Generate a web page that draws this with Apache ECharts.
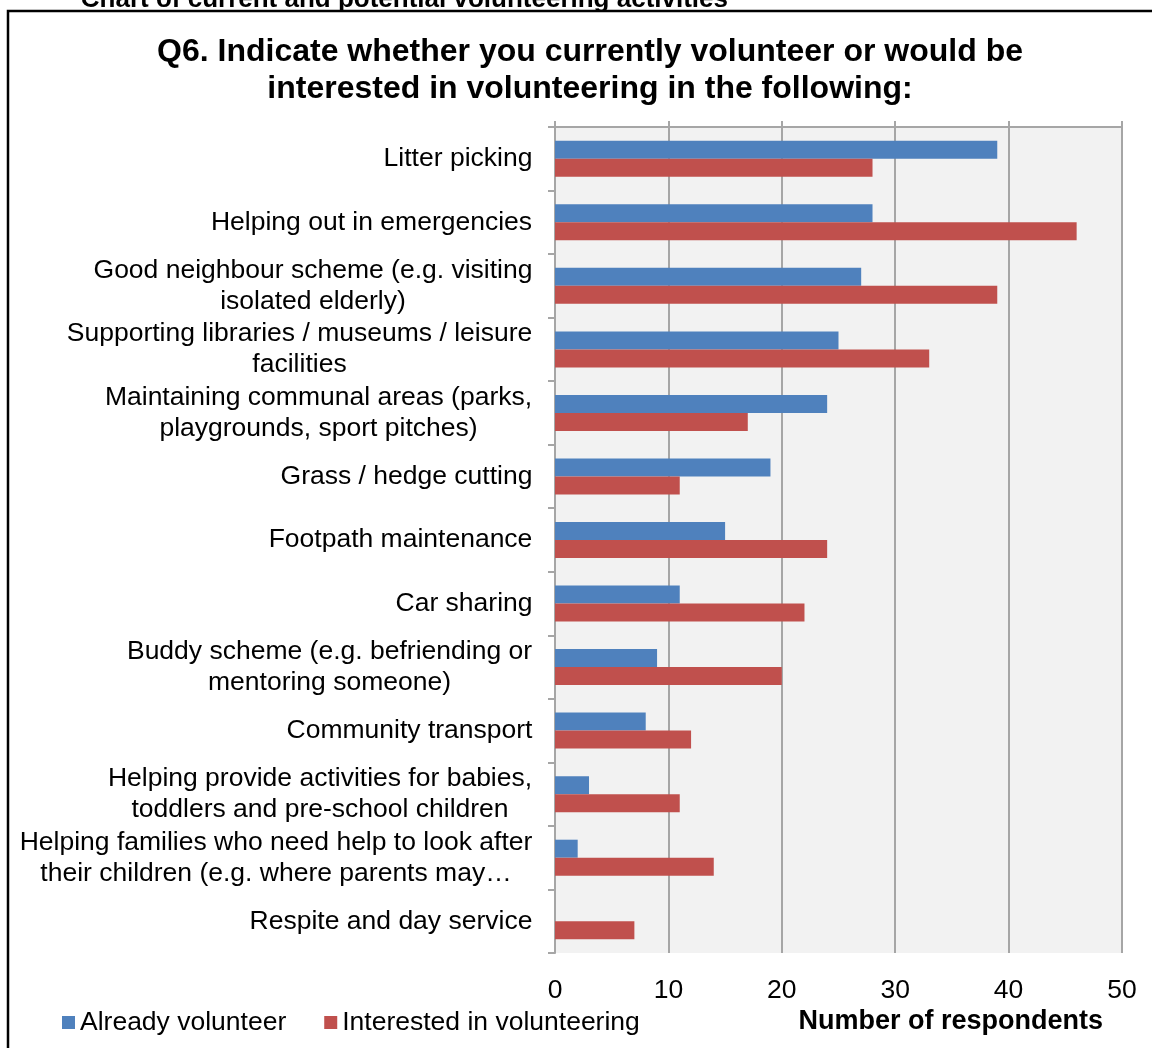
<!DOCTYPE html>
<html>
<head>
<meta charset="utf-8">
<script src="https://cdn.jsdelivr.net/npm/echarts@6/dist/echarts.min.js"></script>
<style>
html,body{margin:0;padding:0;background:#fff;}
#chart{width:1152px;height:1048px;}
</style>
</head>
<body>
<div id="chart"></div>
<script>
var categories = [
  'Litter picking',
  'Helping out in emergencies',
  'Good neighbour scheme (e.g. visiting\nisolated elderly)',
  'Supporting libraries / museums / leisure\nfacilities',
  'Maintaining communal areas (parks,\nplaygrounds, sport pitches)',
  'Grass / hedge cutting',
  'Footpath maintenance',
  'Car sharing',
  'Buddy scheme (e.g. befriending or\nmentoring someone)',
  'Community transport',
  'Helping provide activities for babies,\ntoddlers and pre-school children',
  'Helping families who need help to look after\ntheir children (e.g. where parents may\u2026',
  'Respite and day service'
];
var alreadyVolunteer = [39, 28, 27, 25, 24, 19, 15, 11, 9, 8, 3, 2, 0];
var interestedVolunteering = [28, 46, 39, 33, 17, 11, 24, 22, 20, 12, 11, 14, 7];
var seriesNames = ['Already volunteer', 'Interested in volunteering'];
var xTicks = [0, 10, 20, 30, 40, 50];

var FONT = '"Liberation Sans", Arial, sans-serif';
var LABEL_SIZE = 26.5;

// measure label lines so multi-line labels are centred within their own block
var cv = document.createElement('canvas').getContext('2d');
cv.font = LABEL_SIZE + 'px ' + FONT;
var rich = {};
categories.forEach(function (c, i) {
  var w = 0;
  c.split('\n').forEach(function (l) { w = Math.max(w, cv.measureText(l).width); });
  rich['c' + i] = { width: Math.ceil(w) + 1, align: 'center', fontSize: LABEL_SIZE, fontFamily: FONT, color: '#000', lineHeight: 31 };
});

var chart = echarts.init(document.getElementById('chart'), null, { renderer: 'canvas' });
var option = {
  animation: false,
  backgroundColor: '#fff',
  textStyle: { fontFamily: FONT },
  title: {
    text: 'Q6. Indicate whether you currently volunteer or would be\ninterested in volunteering in the following:',
    left: 585,
    top: 29,
    textAlign: 'center',
    textStyle: { fontSize: 32, fontWeight: 'bold', color: '#000', lineHeight: 37, fontFamily: FONT }
  },
  legend: {
    data: seriesNames,
    left: 62,
    top: 1009,
    padding: 0,
    icon: 'rect',
    itemWidth: 13,
    itemHeight: 13,
    itemGap: 38,
    itemStyle: { borderWidth: 0 },
    textStyle: { fontSize: 26.5, color: '#000', fontFamily: FONT }
  },
  grid: { left: 555, right: 30, top: 127, bottom: 95, containLabel: false,
          show: true, backgroundColor: '#F2F2F2', borderWidth: 0 },
  xAxis: [
    {
      type: 'value', position: 'top', min: 0, max: 50, interval: 10,
      axisLine: { show: true, lineStyle: { color: '#A6A6A6', width: 2 } },
      axisTick: { show: true, length: 6, lineStyle: { color: '#A6A6A6', width: 2 } },
      axisLabel: { show: false },
      splitLine: { show: true, lineStyle: { color: '#A6A6A6', width: 2 } }
    },
    {
      type: 'value', position: 'bottom', min: 0, max: 50, interval: 10,
      axisLine: { show: false }, axisTick: { show: false },
      splitLine: { show: false },
      axisLabel: {
        show: true, margin: 24, fontSize: 26.5, color: '#000', fontFamily: FONT,
        formatter: function (v) { return xTicks.indexOf(v) >= 0 ? String(v) : ''; }
      }
    }
  ],
  yAxis: {
    type: 'category', inverse: true, data: categories,
    axisLine: { show: true, lineStyle: { color: '#A6A6A6', width: 2 } },
    axisTick: { show: true, length: 7, lineStyle: { color: '#A6A6A6', width: 2 } },
    axisLabel: {
      margin: 22, align: 'right', interval: 0,
      formatter: function (v, i) {
        return v.split('\n').map(function (l) { return '{c' + i + '|' + l + '}'; }).join('\n');
      },
      rich: rich
    }
  },
  series: [
    {
      name: seriesNames[0], type: 'bar', xAxisIndex: 0, data: alreadyVolunteer,
      barWidth: 18, barGap: '0%',
      itemStyle: { color: '#4F81BD' }
    },
    {
      name: seriesNames[1], type: 'bar', xAxisIndex: 0, data: interestedVolunteering,
      barWidth: 18, barGap: '0%',
      itemStyle: { color: '#C0504D' }
    }
  ],
  graphic: [
    {
      type: 'rect', silent: true,
      shape: { x: 8, y: 11, width: 1300, height: 1200 },
      style: { fill: null, stroke: '#000', lineWidth: 2.5 }
    },
    {
      type: 'text', silent: true, x: 728, y: 13,
      style: { text: 'Chart of current and potential volunteering activities', align: 'right', verticalAlign: 'bottom',
               font: 'bold 26px ' + FONT, fill: '#000' }
    },
    {
      type: 'text', silent: true, x: 1103, y: 1022,
      style: { text: 'Number of respondents', align: 'right', verticalAlign: 'middle',
               font: 'bold 27px ' + FONT, fill: '#000' }
    }
  ]
};
chart.setOption(option);
</script>
</body>
</html>
